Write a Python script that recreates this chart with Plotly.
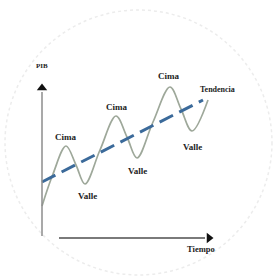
import plotly.graph_objects as go

# Data (time units, PIB units)
wave_t = [1, 12, 25, 35, 44, 59, 75, 86, 96, 112, 129, 140, 151, 167]
wave_pib = [32, 64, 92, 73, 54, 88, 122, 101, 80, 116, 151, 129, 107, 138]

trend_t = [1, 162]
trend_pib = [56, 138]

label_text = ["Cima", "Cima", "Cima", "Valle", "Valle", "Valle"]
label_t = [24, 75, 127, 46, 96, 151]
label_pib = [101, 131, 162, 42, 67, 91]

fig = go.Figure()

fig.add_trace(go.Scatter(
    x=wave_t, y=wave_pib, mode="lines",
    line=dict(color="#9ea89a", width=1.7, shape="spline", smoothing=1.0),
    hoverinfo="skip", showlegend=False))

fig.add_trace(go.Scatter(
    x=trend_t, y=trend_pib, mode="lines",
    line=dict(color="#3b6a9a", width=3, dash="15px,7px"),
    hoverinfo="skip", showlegend=False))

# Axis arrowheads
fig.add_trace(go.Scatter(
    x=[1], y=[150], mode="markers",
    marker=dict(symbol="triangle-up", size=9, color="#111"),
    hoverinfo="skip", showlegend=False))
fig.add_trace(go.Scatter(
    x=[168], y=[0], mode="markers",
    marker=dict(symbol="triangle-right", size=9, color="#111"),
    hoverinfo="skip", showlegend=False))

font = dict(family="Liberation Serif", size=9, color="#222")
annotations = []
for txt, t, p in zip(label_text, label_t, label_pib):
    annotations.append(dict(x=t, y=p, text="<b>%s</b>" % txt, showarrow=False, font=font))
annotations.append(dict(x=176, y=149, text="<b>Tendencia</b>", showarrow=False,
                        font=dict(family="Liberation Serif", size=8, color="#222")))
annotations.append(dict(x=160, y=-11, text="<b>Tiempo</b>", showarrow=False,
                        font=dict(family="Liberation Serif", size=8.5, color="#222")))
annotations.append(dict(x=1, y=172, text="<b>PIB</b>", showarrow=False,
                        font=dict(family="Liberation Serif", size=7, color="#222")))

shapes = [
    dict(type="circle", xref="paper", yref="paper",
         x0=(-36 + 11)/215, x1=(231 + 11)/215,
         y0=(-37 + 15)/198, y1=(228 + 15)/198,
         line=dict(color="#ececec", width=1.5, dash="dot"), layer="below"),
    dict(type="line", xref="x", yref="y", x0=1, x1=1, y0=2, y1=146,
         line=dict(color="#8c8c8c", width=1.5)),
    dict(type="line", xref="x", yref="y", x0=18, x1=164, y0=0, y1=0,
         line=dict(color="#7a7a7a", width=2)),
]

fig.update_layout(
    width=275, height=278,
    margin=dict(l=30, r=30, t=55, b=25),
    paper_bgcolor="white", plot_bgcolor="rgba(0,0,0,0)",
    xaxis=dict(range=[-11, 204], visible=False, fixedrange=True),
    yaxis=dict(range=[-15, 183], visible=False, fixedrange=True),
    annotations=annotations, shapes=shapes,
)

fig.write_html("out.html", config={"displayModeBar": False},
               post_script="document.body.style.margin='0';")
